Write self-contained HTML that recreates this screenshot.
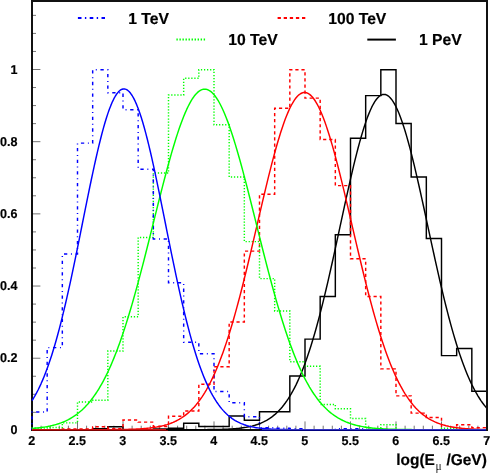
<!DOCTYPE html>
<html><head><meta charset="utf-8"><title>chart</title>
<style>html,body{margin:0;padding:0;background:#fff}body{width:491px;height:473px;position:relative;overflow:hidden;font-family:"Liberation Sans",sans-serif}</style>
</head><body>
<svg width="491" height="473" viewBox="0 0 491 473" style="position:absolute;left:0;top:0;will-change:transform">
<rect x="0" y="0" width="491" height="473" fill="#ffffff"/>
<rect x="32" y="1" width="455" height="429" fill="none" stroke="#111" stroke-width="2"/>
<path d="M32.00,430 V421.40 M41.10,430 V425.70 M50.20,430 V425.70 M59.30,430 V425.70 M68.40,430 V425.70 M77.50,430 V421.40 M86.60,430 V425.70 M95.70,430 V425.70 M104.80,430 V425.70 M113.90,430 V425.70 M123.00,430 V421.40 M132.10,430 V425.70 M141.20,430 V425.70 M150.30,430 V425.70 M159.40,430 V425.70 M168.50,430 V421.40 M177.60,430 V425.70 M186.70,430 V425.70 M195.80,430 V425.70 M204.90,430 V425.70 M214.00,430 V421.40 M223.10,430 V425.70 M232.20,430 V425.70 M241.30,430 V425.70 M250.40,430 V425.70 M259.50,430 V421.40 M268.60,430 V425.70 M277.70,430 V425.70 M286.80,430 V425.70 M295.90,430 V425.70 M305.00,430 V421.40 M314.10,430 V425.70 M323.20,430 V425.70 M332.30,430 V425.70 M341.40,430 V425.70 M350.50,430 V421.40 M359.60,430 V425.70 M368.70,430 V425.70 M377.80,430 V425.70 M386.90,430 V425.70 M396.00,430 V421.40 M405.10,430 V425.70 M414.20,430 V425.70 M423.30,430 V425.70 M432.40,430 V425.70 M441.50,430 V421.40 M450.60,430 V425.70 M459.70,430 V425.70 M468.80,430 V425.70 M477.90,430 V425.70 M487.00,430 V421.40 M32,430.40 H40.40 M32,412.35 H36.00 M32,394.31 H36.00 M32,376.26 H36.00 M32,358.22 H40.40 M32,340.17 H36.00 M32,322.13 H36.00 M32,304.08 H36.00 M32,286.04 H40.40 M32,268.00 H36.00 M32,249.95 H36.00 M32,231.90 H36.00 M32,213.86 H40.40 M32,195.81 H36.00 M32,177.77 H36.00 M32,159.73 H36.00 M32,141.68 H40.40 M32,123.63 H36.00 M32,105.59 H36.00 M32,87.54 H36.00 M32,69.50 H40.40 M32,51.45 H36.00 M32,33.41 H36.00 M32,15.36 H36.00" stroke="#000" stroke-width="0.55" fill="none"/>
<path d="M32.00,429.70 L47.17,429.70 L62.33,429.70 L77.50,429.70 L92.67,429.70 L92.67,428.62 L107.83,428.62 L107.83,426.82 L123.00,426.82 L123.00,429.70 L138.17,429.70 L153.33,429.70 L153.33,428.98 L168.50,428.98 L168.50,428.26 L183.67,428.26 L183.67,423.22 L198.83,423.22 L198.83,426.46 L214.00,426.46 L229.17,426.46 L229.17,416.02 L244.33,416.02 L244.33,420.34 L259.50,420.34 L259.50,411.81 L274.67,411.81 L289.83,411.81 L289.83,376.06 L305.00,376.06 L305.00,339.12 L320.17,339.12 L320.17,296.50 L335.33,296.50 L335.33,234.69 L350.50,234.69 L350.50,138.21 L365.67,138.21 L365.67,95.62 L380.83,95.62 L380.83,69.70 L396.00,69.70 L396.00,123.52 L411.17,123.52 L411.17,177.09 L426.33,177.09 L426.33,238.54 L441.50,238.54 L441.50,355.61 L456.67,355.61 L456.67,348.52 L471.83,348.52 L471.83,391.18 L487.00,391.18 L487.00,429.70" fill="none" stroke="#000000" stroke-width="1.45" stroke-linejoin="miter"/>
<path d="M32.00,429.70 L47.17,429.70 L62.33,429.70 L62.33,428.98 L77.50,428.98 L92.67,428.98 L92.67,426.82 L107.83,426.82 L107.83,428.62 L123.00,428.62 L123.00,419.98 L138.17,419.98 L138.17,422.14 L153.33,422.14 L153.33,426.46 L168.50,426.46 L168.50,416.20 L183.67,416.20 L183.67,410.98 L198.83,410.98 L198.83,384.34 L214.00,384.34 L214.00,366.81 L229.17,366.81 L229.17,321.92 L244.33,321.92 L244.33,251.14 L259.50,251.14 L259.50,194.26 L274.67,194.26 L274.67,108.22 L289.83,108.22 L289.83,69.70 L305.00,69.70 L305.00,98.14 L320.17,98.14 L320.17,139.54 L335.33,139.54 L335.33,185.62 L350.50,185.62 L350.50,258.81 L365.67,258.81 L365.67,296.50 L380.83,296.50 L380.83,368.86 L396.00,368.86 L396.00,395.86 L411.17,395.86 L411.17,413.14 L426.33,413.14 L426.33,417.46 L441.50,417.46 L441.50,429.70 L456.67,429.70 L456.67,424.80 L471.83,424.80 L471.83,427.61 L487.00,427.61 L487.00,429.70" fill="none" stroke="#ff0000" stroke-width="1.45" stroke-dasharray="3.2 2.9" stroke-dashoffset="0.6" stroke-linejoin="miter"/>
<path d="M32.00,429.70 L32.00,427.90 L47.17,427.90 L47.17,427.54 L62.33,427.54 L62.33,422.86 L77.50,422.86 L77.50,401.98 L92.67,401.98 L92.67,400.18 L107.83,400.18 L107.83,351.04 L123.00,351.04 L123.00,316.77 L138.17,316.77 L138.17,237.46 L153.33,237.46 L153.33,173.02 L168.50,173.02 L168.50,94.90 L183.67,94.90 L183.67,78.34 L198.83,78.34 L198.83,69.70 L214.00,69.70 L214.00,124.78 L229.17,124.78 L229.17,176.98 L244.33,176.98 L244.33,241.60 L259.50,241.60 L259.50,278.61 L274.67,278.61 L274.67,311.01 L289.83,311.01 L289.83,361.66 L305.00,361.66 L305.00,366.34 L320.17,366.34 L320.17,404.50 L335.33,404.50 L335.33,408.82 L350.50,408.82 L350.50,418.54 L365.67,418.54 L365.67,428.98 L380.83,428.98 L380.83,424.66 L396.00,424.66 L396.00,429.70 L411.17,429.70 L426.33,429.70 L441.50,429.70 L441.50,428.26 L456.67,428.26 L456.67,429.70 L471.83,429.70 L487.00,429.70" fill="none" stroke="#00ff00" stroke-width="1.45" stroke-dasharray="1.25 1.8" stroke-dashoffset="1.78" stroke-linejoin="miter"/>
<path d="M32.00,429.70 L32.00,412.06 L47.17,412.06 L47.17,347.62 L62.33,347.62 L62.33,254.02 L77.50,254.02 L77.50,143.14 L92.67,143.14 L92.67,69.70 L107.83,69.70 L107.83,92.74 L123.00,92.74 L123.00,109.66 L138.17,109.66 L138.17,169.20 L153.33,169.20 L153.33,238.90 L168.50,238.90 L168.50,282.82 L183.67,282.82 L183.67,342.22 L198.83,342.22 L198.83,353.74 L214.00,353.74 L214.00,391.54 L229.17,391.54 L229.17,402.70 L244.33,402.70 L244.33,416.74 L259.50,416.74 L259.50,427.72 L274.67,427.72 L274.67,428.26 L289.83,428.26 L289.83,428.62 L305.00,428.62 L305.00,429.70 L320.17,429.70 L335.33,429.70 L335.33,428.62 L350.50,428.62 L365.67,428.62 L365.67,429.70 L380.83,429.70 L396.00,429.70 L411.17,429.70 L426.33,429.70 L441.50,429.70 L456.67,429.70 L471.83,429.70 L487.00,429.70" fill="none" stroke="#0000ff" stroke-width="1.45" stroke-dasharray="3.3 3.66 1.0 3.66" stroke-dashoffset="1.5" stroke-linejoin="miter"/>
<path d="M32.00,429.70 L33.52,429.70 L35.03,429.70 L36.55,429.70 L38.07,429.70 L39.58,429.70 L41.10,429.70 L42.62,429.70 L44.13,429.70 L45.65,429.70 L47.17,429.70 L48.68,429.70 L50.20,429.70 L51.72,429.70 L53.23,429.70 L54.75,429.70 L56.27,429.70 L57.78,429.70 L59.30,429.70 L60.82,429.70 L62.33,429.70 L63.85,429.70 L65.37,429.70 L66.88,429.70 L68.40,429.70 L69.92,429.70 L71.43,429.70 L72.95,429.70 L74.47,429.70 L75.98,429.70 L77.50,429.70 L79.02,429.70 L80.53,429.70 L82.05,429.70 L83.57,429.70 L85.08,429.70 L86.60,429.70 L88.12,429.70 L89.63,429.70 L91.15,429.70 L92.67,429.70 L94.18,429.70 L95.70,429.70 L97.22,429.70 L98.73,429.70 L100.25,429.70 L101.77,429.70 L103.28,429.70 L104.80,429.70 L106.32,429.70 L107.83,429.70 L109.35,429.70 L110.87,429.70 L112.38,429.70 L113.90,429.70 L115.42,429.70 L116.93,429.70 L118.45,429.70 L119.97,429.70 L121.48,429.70 L123.00,429.70 L124.52,429.70 L126.03,429.70 L127.55,429.70 L129.07,429.70 L130.58,429.70 L132.10,429.70 L133.62,429.70 L135.13,429.70 L136.65,429.70 L138.17,429.70 L139.68,429.70 L141.20,429.70 L142.72,429.70 L144.23,429.70 L145.75,429.70 L147.27,429.70 L148.78,429.70 L150.30,429.70 L151.82,429.70 L153.33,429.70 L154.85,429.70 L156.37,429.70 L157.88,429.70 L159.40,429.70 L160.92,429.70 L162.43,429.70 L163.95,429.70 L165.47,429.70 L166.98,429.70 L168.50,429.70 L170.02,429.70 L171.53,429.70 L173.05,429.70 L174.57,429.70 L176.08,429.70 L177.60,429.69 L179.12,429.69 L180.63,429.69 L182.15,429.69 L183.67,429.69 L185.18,429.69 L186.70,429.69 L188.22,429.68 L189.73,429.68 L191.25,429.68 L192.77,429.67 L194.28,429.67 L195.80,429.67 L197.32,429.66 L198.83,429.65 L200.35,429.65 L201.87,429.64 L203.38,429.63 L204.90,429.62 L206.42,429.61 L207.93,429.59 L209.45,429.58 L210.97,429.56 L212.48,429.54 L214.00,429.52 L215.52,429.49 L217.03,429.46 L218.55,429.43 L220.07,429.39 L221.58,429.35 L223.10,429.30 L224.62,429.24 L226.13,429.18 L227.65,429.12 L229.17,429.04 L230.68,428.95 L232.20,428.86 L233.72,428.75 L235.23,428.63 L236.75,428.50 L238.27,428.35 L239.78,428.19 L241.30,428.01 L242.82,427.81 L244.33,427.59 L245.85,427.35 L247.37,427.08 L248.88,426.78 L250.40,426.45 L251.92,426.10 L253.43,425.70 L254.95,425.27 L256.47,424.80 L257.98,424.29 L259.50,423.73 L261.02,423.11 L262.53,422.45 L264.05,421.72 L265.57,420.94 L267.08,420.09 L268.60,419.16 L270.12,418.17 L271.63,417.09 L273.15,415.93 L274.67,414.68 L276.18,413.34 L277.70,411.90 L279.22,410.36 L280.73,408.70 L282.25,406.94 L283.77,405.05 L285.28,403.04 L286.80,400.90 L288.32,398.63 L289.83,396.21 L291.35,393.65 L292.87,390.95 L294.38,388.08 L295.90,385.07 L297.42,381.88 L298.93,378.54 L300.45,375.02 L301.97,371.33 L303.48,367.47 L305.00,363.44 L306.52,359.22 L308.03,354.83 L309.55,350.25 L311.07,345.50 L312.58,340.57 L314.10,335.47 L315.62,330.19 L317.13,324.74 L318.65,319.13 L320.17,313.35 L321.68,307.42 L323.20,301.35 L324.72,295.13 L326.23,288.77 L327.75,282.30 L329.27,275.71 L330.78,269.01 L332.30,262.23 L333.82,255.37 L335.33,248.44 L336.85,241.47 L338.37,234.46 L339.88,227.43 L341.40,220.40 L342.92,213.38 L344.43,206.40 L345.95,199.46 L347.47,192.60 L348.98,185.82 L350.50,179.14 L352.02,172.59 L353.53,166.19 L355.05,159.95 L356.57,153.89 L358.08,148.03 L359.60,142.39 L361.12,136.99 L362.63,131.84 L364.15,126.96 L365.67,122.37 L367.18,118.09 L368.70,114.12 L370.22,110.49 L371.73,107.20 L373.25,104.26 L374.77,101.69 L376.28,99.49 L377.80,97.68 L379.32,96.26 L380.83,95.23 L382.35,94.59 L383.87,94.36 L385.38,94.53 L386.90,95.10 L388.42,96.06 L389.93,97.43 L391.45,99.18 L392.97,101.31 L394.48,103.82 L396.00,106.70 L397.52,109.94 L399.03,113.52 L400.55,117.43 L402.07,121.67 L403.58,126.21 L405.10,131.04 L406.62,136.14 L408.13,141.51 L409.65,147.11 L411.17,152.94 L412.68,158.96 L414.20,165.18 L415.72,171.56 L417.23,178.09 L418.75,184.74 L420.27,191.50 L421.78,198.36 L423.30,205.28 L424.82,212.26 L426.33,219.28 L427.85,226.31 L429.37,233.34 L430.88,240.35 L432.40,247.33 L433.92,254.27 L435.43,261.14 L436.95,267.93 L438.47,274.64 L439.98,281.25 L441.50,287.74 L443.02,294.12 L444.53,300.36 L446.05,306.46 L447.57,312.42 L449.08,318.22 L450.60,323.86 L452.12,329.33 L453.63,334.64 L455.15,339.77 L456.67,344.73 L458.18,349.51 L459.70,354.11 L461.22,358.53 L462.73,362.77 L464.25,366.84 L465.77,370.73 L467.28,374.44 L468.80,377.99 L470.32,381.36 L471.83,384.57 L473.35,387.61 L474.87,390.50 L476.38,393.23 L477.90,395.81 L479.42,398.25 L480.93,400.55 L482.45,402.71 L483.97,404.74 L485.48,406.64 L487.00,408.43" fill="none" stroke="#000000" stroke-width="1.45" stroke-linejoin="round"/>
<path d="M32.00,429.70 L33.52,429.70 L35.03,429.70 L36.55,429.70 L38.07,429.70 L39.58,429.70 L41.10,429.70 L42.62,429.70 L44.13,429.70 L45.65,429.70 L47.17,429.70 L48.68,429.70 L50.20,429.70 L51.72,429.70 L53.23,429.70 L54.75,429.70 L56.27,429.70 L57.78,429.70 L59.30,429.70 L60.82,429.70 L62.33,429.70 L63.85,429.70 L65.37,429.70 L66.88,429.70 L68.40,429.70 L69.92,429.70 L71.43,429.70 L72.95,429.70 L74.47,429.70 L75.98,429.70 L77.50,429.70 L79.02,429.70 L80.53,429.70 L82.05,429.69 L83.57,429.69 L85.08,429.69 L86.60,429.69 L88.12,429.69 L89.63,429.69 L91.15,429.69 L92.67,429.68 L94.18,429.68 L95.70,429.68 L97.22,429.68 L98.73,429.67 L100.25,429.67 L101.77,429.66 L103.28,429.66 L104.80,429.65 L106.32,429.64 L107.83,429.64 L109.35,429.63 L110.87,429.62 L112.38,429.61 L113.90,429.59 L115.42,429.58 L116.93,429.56 L118.45,429.54 L119.97,429.52 L121.48,429.50 L123.00,429.47 L124.52,429.44 L126.03,429.41 L127.55,429.37 L129.07,429.33 L130.58,429.29 L132.10,429.24 L133.62,429.18 L135.13,429.12 L136.65,429.05 L138.17,428.97 L139.68,428.88 L141.20,428.79 L142.72,428.68 L144.23,428.57 L145.75,428.44 L147.27,428.30 L148.78,428.14 L150.30,427.97 L151.82,427.78 L153.33,427.57 L154.85,427.35 L156.37,427.10 L157.88,426.83 L159.40,426.53 L160.92,426.21 L162.43,425.86 L163.95,425.48 L165.47,425.06 L166.98,424.61 L168.50,424.12 L170.02,423.59 L171.53,423.01 L173.05,422.39 L174.57,421.72 L176.08,420.99 L177.60,420.21 L179.12,419.37 L180.63,418.47 L182.15,417.50 L183.67,416.46 L185.18,415.35 L186.70,414.16 L188.22,412.89 L189.73,411.53 L191.25,410.08 L192.77,408.54 L194.28,406.90 L195.80,405.16 L197.32,403.31 L198.83,401.35 L200.35,399.28 L201.87,397.09 L203.38,394.78 L204.90,392.34 L206.42,389.77 L207.93,387.07 L209.45,384.24 L210.97,381.26 L212.48,378.14 L214.00,374.88 L215.52,371.47 L217.03,367.91 L218.55,364.20 L220.07,360.34 L221.58,356.32 L223.10,352.16 L224.62,347.83 L226.13,343.36 L227.65,338.73 L229.17,333.96 L230.68,329.03 L232.20,323.96 L233.72,318.75 L235.23,313.40 L236.75,307.91 L238.27,302.30 L239.78,296.57 L241.30,290.71 L242.82,284.75 L244.33,278.69 L245.85,272.53 L247.37,266.29 L248.88,259.97 L250.40,253.59 L251.92,247.16 L253.43,240.68 L254.95,234.18 L256.47,227.65 L257.98,221.12 L259.50,214.60 L261.02,208.10 L262.53,201.64 L264.05,195.23 L265.57,188.88 L267.08,182.61 L268.60,176.44 L270.12,170.38 L271.63,164.44 L273.15,158.65 L274.67,153.01 L276.18,147.54 L277.70,142.26 L279.22,137.17 L280.73,132.30 L282.25,127.66 L283.77,123.25 L285.28,119.10 L286.80,115.21 L288.32,111.60 L289.83,108.28 L291.35,105.25 L292.87,102.53 L294.38,100.12 L295.90,98.03 L297.42,96.26 L298.93,94.83 L300.45,93.74 L301.97,92.98 L303.48,92.57 L305.00,92.50 L306.52,92.78 L308.03,93.40 L309.55,94.35 L311.07,95.65 L312.58,97.28 L314.10,99.24 L315.62,101.52 L317.13,104.12 L318.65,107.03 L320.17,110.24 L321.68,113.74 L323.20,117.51 L324.72,121.56 L326.23,125.87 L327.75,130.42 L329.27,135.20 L330.78,140.20 L332.30,145.40 L333.82,150.80 L335.33,156.37 L336.85,162.11 L338.37,167.99 L339.88,174.00 L341.40,180.13 L342.92,186.36 L344.43,192.68 L345.95,199.07 L347.47,205.51 L348.98,212.00 L350.50,218.51 L352.02,225.04 L353.53,231.57 L355.05,238.08 L356.57,244.57 L358.08,251.03 L359.60,257.43 L361.12,263.77 L362.63,270.04 L364.15,276.24 L365.67,282.34 L367.18,288.34 L368.70,294.24 L370.22,300.02 L371.73,305.68 L373.25,311.22 L374.77,316.63 L376.28,321.89 L377.80,327.02 L379.32,332.00 L380.83,336.84 L382.35,341.53 L383.87,346.06 L385.38,350.44 L386.90,354.67 L388.42,358.75 L389.93,362.67 L391.45,366.45 L392.97,370.06 L394.48,373.53 L396.00,376.86 L397.52,380.03 L399.03,383.06 L400.55,385.96 L402.07,388.71 L403.58,391.33 L405.10,393.82 L406.62,396.18 L408.13,398.42 L409.65,400.54 L411.17,402.54 L412.68,404.43 L414.20,406.22 L415.72,407.90 L417.23,409.48 L418.75,410.96 L420.27,412.35 L421.78,413.66 L423.30,414.88 L424.82,416.03 L426.33,417.10 L427.85,418.09 L429.37,419.02 L430.88,419.89 L432.40,420.69 L433.92,421.44 L435.43,422.13 L436.95,422.77 L438.47,423.36 L439.98,423.91 L441.50,424.42 L443.02,424.88 L444.53,425.31 L446.05,425.71 L447.57,426.07 L449.08,426.41 L450.60,426.71 L452.12,426.99 L453.63,427.25 L455.15,427.49 L456.67,427.70 L458.18,427.90 L459.70,428.07 L461.22,428.24 L462.73,428.38 L464.25,428.52 L465.77,428.64 L467.28,428.75 L468.80,428.85 L470.32,428.94 L471.83,429.02 L473.35,429.09 L474.87,429.16 L476.38,429.21 L477.90,429.27 L479.42,429.32 L480.93,429.36 L482.45,429.40 L483.97,429.43 L485.48,429.46 L487.00,429.49" fill="none" stroke="#ff0000" stroke-width="1.45" stroke-linejoin="round"/>
<path d="M32.00,428.49 L33.52,428.37 L35.03,428.23 L36.55,428.08 L38.07,427.92 L39.58,427.74 L41.10,427.55 L42.62,427.34 L44.13,427.11 L45.65,426.86 L47.17,426.59 L48.68,426.29 L50.20,425.98 L51.72,425.63 L53.23,425.26 L54.75,424.86 L56.27,424.43 L57.78,423.96 L59.30,423.46 L60.82,422.92 L62.33,422.34 L63.85,421.72 L65.37,421.05 L66.88,420.33 L68.40,419.57 L69.92,418.75 L71.43,417.87 L72.95,416.94 L74.47,415.94 L75.98,414.88 L77.50,413.75 L79.02,412.55 L80.53,411.28 L82.05,409.92 L83.57,408.49 L85.08,406.97 L86.60,405.37 L88.12,403.68 L89.63,401.89 L91.15,400.00 L92.67,398.02 L94.18,395.93 L95.70,393.73 L97.22,391.43 L98.73,389.01 L100.25,386.48 L101.77,383.83 L103.28,381.06 L104.80,378.16 L106.32,375.15 L107.83,372.00 L109.35,368.73 L110.87,365.33 L112.38,361.80 L113.90,358.14 L115.42,354.34 L116.93,350.42 L118.45,346.36 L119.97,342.17 L121.48,337.85 L123.00,333.39 L124.52,328.82 L126.03,324.11 L127.55,319.28 L129.07,314.33 L130.58,309.27 L132.10,304.09 L133.62,298.80 L135.13,293.41 L136.65,287.92 L138.17,282.34 L139.68,276.67 L141.20,270.93 L142.72,265.10 L144.23,259.22 L145.75,253.27 L147.27,247.28 L148.78,241.25 L150.30,235.19 L151.82,229.11 L153.33,223.02 L154.85,216.93 L156.37,210.85 L157.88,204.79 L159.40,198.76 L160.92,192.78 L162.43,186.86 L163.95,181.00 L165.47,175.23 L166.98,169.55 L168.50,163.97 L170.02,158.51 L171.53,153.17 L173.05,147.98 L174.57,142.94 L176.08,138.06 L177.60,133.36 L179.12,128.85 L180.63,124.53 L182.15,120.42 L183.67,116.52 L185.18,112.85 L186.70,109.42 L188.22,106.24 L189.73,103.30 L191.25,100.63 L192.77,98.22 L194.28,96.08 L195.80,94.22 L197.32,92.65 L198.83,91.36 L200.35,90.37 L201.87,89.66 L203.38,89.25 L204.90,89.14 L206.42,89.33 L207.93,89.81 L209.45,90.58 L210.97,91.65 L212.48,93.00 L214.00,94.64 L215.52,96.57 L217.03,98.77 L218.55,101.24 L220.07,103.98 L221.58,106.98 L223.10,110.22 L224.62,113.71 L226.13,117.44 L227.65,121.38 L229.17,125.55 L230.68,129.91 L232.20,134.47 L233.72,139.22 L235.23,144.14 L236.75,149.21 L238.27,154.44 L239.78,159.81 L241.30,165.30 L242.82,170.90 L244.33,176.61 L245.85,182.40 L247.37,188.28 L248.88,194.21 L250.40,200.21 L251.92,206.24 L253.43,212.30 L254.95,218.39 L256.47,224.48 L257.98,230.57 L259.50,236.65 L261.02,242.70 L262.53,248.72 L264.05,254.71 L265.57,260.64 L267.08,266.51 L268.60,272.31 L270.12,278.04 L271.63,283.69 L273.15,289.25 L274.67,294.72 L276.18,300.08 L277.70,305.34 L279.22,310.50 L280.73,315.53 L282.25,320.45 L283.77,325.25 L285.28,329.93 L286.80,334.47 L288.32,338.89 L289.83,343.18 L291.35,347.34 L292.87,351.37 L294.38,355.27 L295.90,359.03 L297.42,362.66 L298.93,366.16 L300.45,369.53 L301.97,372.77 L303.48,375.88 L305.00,378.87 L306.52,381.73 L308.03,384.47 L309.55,387.10 L311.07,389.60 L312.58,391.99 L314.10,394.27 L315.62,396.44 L317.13,398.50 L318.65,400.46 L320.17,402.33 L321.68,404.09 L323.20,405.76 L324.72,407.35 L326.23,408.84 L327.75,410.26 L329.27,411.59 L330.78,412.85 L332.30,414.03 L333.82,415.14 L335.33,416.19 L336.85,417.17 L338.37,418.09 L339.88,418.95 L341.40,419.76 L342.92,420.51 L344.43,421.21 L345.95,421.87 L347.47,422.48 L348.98,423.05 L350.50,423.58 L352.02,424.08 L353.53,424.54 L355.05,424.96 L356.57,425.35 L358.08,425.72 L359.60,426.06 L361.12,426.37 L362.63,426.65 L364.15,426.92 L365.67,427.16 L367.18,427.39 L368.70,427.59 L370.22,427.78 L371.73,427.96 L373.25,428.12 L374.77,428.26 L376.28,428.40 L377.80,428.52 L379.32,428.63 L380.83,428.74 L382.35,428.83 L383.87,428.91 L385.38,428.99 L386.90,429.06 L388.42,429.12 L389.93,429.18 L391.45,429.23 L392.97,429.28 L394.48,429.32 L396.00,429.36 L397.52,429.40 L399.03,429.43 L400.55,429.46 L402.07,429.48 L403.58,429.51 L405.10,429.53 L406.62,429.55 L408.13,429.56 L409.65,429.58 L411.17,429.59 L412.68,429.60 L414.20,429.62 L415.72,429.62 L417.23,429.63 L418.75,429.64 L420.27,429.65 L421.78,429.65 L423.30,429.66 L424.82,429.66 L426.33,429.67 L427.85,429.67 L429.37,429.68 L430.88,429.68 L432.40,429.68 L433.92,429.68 L435.43,429.69 L436.95,429.69 L438.47,429.69 L439.98,429.69 L441.50,429.69 L443.02,429.69 L444.53,429.69 L446.05,429.69 L447.57,429.70 L449.08,429.70 L450.60,429.70 L452.12,429.70 L453.63,429.70 L455.15,429.70 L456.67,429.70 L458.18,429.70 L459.70,429.70 L461.22,429.70 L462.73,429.70 L464.25,429.70 L465.77,429.70 L467.28,429.70 L468.80,429.70 L470.32,429.70 L471.83,429.70 L473.35,429.70 L474.87,429.70 L476.38,429.70 L477.90,429.70 L479.42,429.70 L480.93,429.70 L482.45,429.70 L483.97,429.70 L485.48,429.70 L487.00,429.70" fill="none" stroke="#00ff00" stroke-width="1.45" stroke-linejoin="round"/>
<path d="M32.00,400.69 L33.52,398.25 L35.03,395.66 L36.55,392.90 L38.07,389.97 L39.58,386.86 L41.10,383.58 L42.62,380.10 L44.13,376.44 L45.65,372.58 L47.17,368.53 L48.68,364.28 L50.20,359.82 L51.72,355.16 L53.23,350.30 L54.75,345.24 L56.27,339.97 L57.78,334.50 L59.30,328.83 L60.82,322.97 L62.33,316.92 L63.85,310.68 L65.37,304.27 L66.88,297.69 L68.40,290.95 L69.92,284.07 L71.43,277.04 L72.95,269.90 L74.47,262.64 L75.98,255.29 L77.50,247.86 L79.02,240.36 L80.53,232.82 L82.05,225.26 L83.57,217.69 L85.08,210.13 L86.60,202.61 L88.12,195.15 L89.63,187.76 L91.15,180.48 L92.67,173.33 L94.18,166.32 L95.70,159.48 L97.22,152.84 L98.73,146.41 L100.25,140.23 L101.77,134.30 L103.28,128.66 L104.80,123.32 L106.32,118.31 L107.83,113.63 L109.35,109.32 L110.87,105.39 L112.38,101.84 L113.90,98.70 L115.42,95.98 L116.93,93.69 L118.45,91.84 L119.97,90.43 L121.48,89.47 L123.00,88.97 L124.52,88.92 L126.03,89.34 L127.55,90.20 L129.07,91.52 L130.58,93.29 L132.10,95.49 L133.62,98.13 L135.13,101.18 L136.65,104.65 L138.17,108.50 L139.68,112.74 L141.20,117.34 L142.72,122.29 L144.23,127.57 L145.75,133.15 L147.27,139.02 L148.78,145.16 L150.30,151.53 L151.82,158.14 L153.33,164.94 L154.85,171.91 L156.37,179.04 L157.88,186.30 L159.40,193.66 L160.92,201.11 L162.43,208.62 L163.95,216.17 L165.47,223.74 L166.98,231.31 L168.50,238.86 L170.02,246.36 L171.53,253.81 L173.05,261.18 L174.57,268.46 L176.08,275.63 L177.60,282.67 L179.12,289.59 L180.63,296.36 L182.15,302.97 L183.67,309.41 L185.18,315.68 L186.70,321.77 L188.22,327.67 L189.73,333.38 L191.25,338.89 L192.77,344.20 L194.28,349.30 L195.80,354.21 L197.32,358.91 L198.83,363.40 L200.35,367.70 L201.87,371.79 L203.38,375.69 L204.90,379.39 L206.42,382.90 L207.93,386.22 L209.45,389.36 L210.97,392.33 L212.48,395.12 L214.00,397.75 L215.52,400.22 L217.03,402.53 L218.55,404.69 L220.07,406.72 L221.58,408.61 L223.10,410.37 L224.62,412.00 L226.13,413.52 L227.65,414.93 L229.17,416.23 L230.68,417.44 L232.20,418.55 L233.72,419.58 L235.23,420.52 L236.75,421.39 L238.27,422.18 L239.78,422.91 L241.30,423.58 L242.82,424.18 L244.33,424.74 L245.85,425.24 L247.37,425.70 L248.88,426.12 L250.40,426.49 L251.92,426.84 L253.43,427.14 L254.95,427.42 L256.47,427.67 L257.98,427.90 L259.50,428.10 L261.02,428.28 L262.53,428.45 L264.05,428.59 L265.57,428.72 L267.08,428.84 L268.60,428.94 L270.12,429.03 L271.63,429.11 L273.15,429.19 L274.67,429.25 L276.18,429.31 L277.70,429.36 L279.22,429.40 L280.73,429.44 L282.25,429.47 L283.77,429.50 L285.28,429.53 L286.80,429.55 L288.32,429.57 L289.83,429.59 L291.35,429.60 L292.87,429.62 L294.38,429.63 L295.90,429.64 L297.42,429.65 L298.93,429.66 L300.45,429.66 L301.97,429.67 L303.48,429.67 L305.00,429.68 L306.52,429.68 L308.03,429.68 L309.55,429.69 L311.07,429.69 L312.58,429.69 L314.10,429.69 L315.62,429.69 L317.13,429.69 L318.65,429.69 L320.17,429.70 L321.68,429.70 L323.20,429.70 L324.72,429.70 L326.23,429.70 L327.75,429.70 L329.27,429.70 L330.78,429.70 L332.30,429.70 L333.82,429.70 L335.33,429.70 L336.85,429.70 L338.37,429.70 L339.88,429.70 L341.40,429.70 L342.92,429.70 L344.43,429.70 L345.95,429.70 L347.47,429.70 L348.98,429.70 L350.50,429.70 L352.02,429.70 L353.53,429.70 L355.05,429.70 L356.57,429.70 L358.08,429.70 L359.60,429.70 L361.12,429.70 L362.63,429.70 L364.15,429.70 L365.67,429.70 L367.18,429.70 L368.70,429.70 L370.22,429.70 L371.73,429.70 L373.25,429.70 L374.77,429.70 L376.28,429.70 L377.80,429.70 L379.32,429.70 L380.83,429.70 L382.35,429.70 L383.87,429.70 L385.38,429.70 L386.90,429.70 L388.42,429.70 L389.93,429.70 L391.45,429.70 L392.97,429.70 L394.48,429.70 L396.00,429.70 L397.52,429.70 L399.03,429.70 L400.55,429.70 L402.07,429.70 L403.58,429.70 L405.10,429.70 L406.62,429.70 L408.13,429.70 L409.65,429.70 L411.17,429.70 L412.68,429.70 L414.20,429.70 L415.72,429.70 L417.23,429.70 L418.75,429.70 L420.27,429.70 L421.78,429.70 L423.30,429.70 L424.82,429.70 L426.33,429.70 L427.85,429.70 L429.37,429.70 L430.88,429.70 L432.40,429.70 L433.92,429.70 L435.43,429.70 L436.95,429.70 L438.47,429.70 L439.98,429.70 L441.50,429.70 L443.02,429.70 L444.53,429.70 L446.05,429.70 L447.57,429.70 L449.08,429.70 L450.60,429.70 L452.12,429.70 L453.63,429.70 L455.15,429.70 L456.67,429.70 L458.18,429.70 L459.70,429.70 L461.22,429.70 L462.73,429.70 L464.25,429.70 L465.77,429.70 L467.28,429.70 L468.80,429.70 L470.32,429.70 L471.83,429.70 L473.35,429.70 L474.87,429.70 L476.38,429.70 L477.90,429.70 L479.42,429.70 L480.93,429.70 L482.45,429.70 L483.97,429.70 L485.48,429.70 L487.00,429.70" fill="none" stroke="#0000ff" stroke-width="1.45" stroke-linejoin="round"/>
<path d="M487,0 V431" stroke="#111" stroke-width="2" fill="none"/>
<path d="M33,429.5 H166" stroke="#cc1010" stroke-width="1" fill="none"/>
<path d="M33,430.5 H168" stroke="#800000" stroke-width="1" fill="none"/>
<path d="M262,429.5 H486" stroke="#3434c4" stroke-width="1" fill="none"/>
<path d="M260,430.5 H486" stroke="#000080" stroke-width="1" fill="none"/>
<path d="M77.9,18 H105" stroke="#0000ff" stroke-width="2" stroke-dasharray="3.6 3.4 1.4 3.4" fill="none"/>
<path d="M176.4,39.6 H206.2" stroke="#00ff00" stroke-width="2" stroke-dasharray="1.4 1.63" fill="none"/>
<path d="M277.6,18 H305.7" stroke="#ff0000" stroke-width="2" stroke-dasharray="3.3 2.8" fill="none"/>
<path d="M367.3,39.6 H395.9" stroke="#000" stroke-width="2" fill="none"/>
<text transform="translate(128.20,23.80) scale(0.9870,1)" x="0" y="0" style="font-family:'Liberation Sans',sans-serif;font-weight:bold;fill:#000;stroke:#000;stroke-width:0.18px;font-size:15.9px;text-rendering:geometricPrecision" text-anchor="start">1 TeV</text>
<text transform="translate(228.30,45.10) scale(0.9870,1)" x="0" y="0" style="font-family:'Liberation Sans',sans-serif;font-weight:bold;fill:#000;stroke:#000;stroke-width:0.18px;font-size:15.9px;text-rendering:geometricPrecision" text-anchor="start">10 TeV</text>
<text transform="translate(328.20,23.80) scale(0.9870,1)" x="0" y="0" style="font-family:'Liberation Sans',sans-serif;font-weight:bold;fill:#000;stroke:#000;stroke-width:0.18px;font-size:15.9px;text-rendering:geometricPrecision" text-anchor="start">100 TeV</text>
<text transform="translate(418.90,45.10) scale(0.9870,1)" x="0" y="0" style="font-family:'Liberation Sans',sans-serif;font-weight:bold;fill:#000;stroke:#000;stroke-width:0.18px;font-size:15.9px;text-rendering:geometricPrecision" text-anchor="start">1 PeV</text>
<text transform="translate(31.70,445.20) scale(0.9750,1)" x="0" y="0" style="font-family:'Liberation Sans',sans-serif;font-weight:bold;fill:#000;stroke:#000;stroke-width:0.18px;font-size:12.9px;text-rendering:geometricPrecision" text-anchor="middle">2</text>
<text transform="translate(77.20,445.20) scale(0.9750,1)" x="0" y="0" style="font-family:'Liberation Sans',sans-serif;font-weight:bold;fill:#000;stroke:#000;stroke-width:0.18px;font-size:12.9px;text-rendering:geometricPrecision" text-anchor="middle">2.5</text>
<text transform="translate(122.70,445.20) scale(0.9750,1)" x="0" y="0" style="font-family:'Liberation Sans',sans-serif;font-weight:bold;fill:#000;stroke:#000;stroke-width:0.18px;font-size:12.9px;text-rendering:geometricPrecision" text-anchor="middle">3</text>
<text transform="translate(168.20,445.20) scale(0.9750,1)" x="0" y="0" style="font-family:'Liberation Sans',sans-serif;font-weight:bold;fill:#000;stroke:#000;stroke-width:0.18px;font-size:12.9px;text-rendering:geometricPrecision" text-anchor="middle">3.5</text>
<text transform="translate(213.70,445.20) scale(0.9750,1)" x="0" y="0" style="font-family:'Liberation Sans',sans-serif;font-weight:bold;fill:#000;stroke:#000;stroke-width:0.18px;font-size:12.9px;text-rendering:geometricPrecision" text-anchor="middle">4</text>
<text transform="translate(259.20,445.20) scale(0.9750,1)" x="0" y="0" style="font-family:'Liberation Sans',sans-serif;font-weight:bold;fill:#000;stroke:#000;stroke-width:0.18px;font-size:12.9px;text-rendering:geometricPrecision" text-anchor="middle">4.5</text>
<text transform="translate(304.70,445.20) scale(0.9750,1)" x="0" y="0" style="font-family:'Liberation Sans',sans-serif;font-weight:bold;fill:#000;stroke:#000;stroke-width:0.18px;font-size:12.9px;text-rendering:geometricPrecision" text-anchor="middle">5</text>
<text transform="translate(350.20,445.20) scale(0.9750,1)" x="0" y="0" style="font-family:'Liberation Sans',sans-serif;font-weight:bold;fill:#000;stroke:#000;stroke-width:0.18px;font-size:12.9px;text-rendering:geometricPrecision" text-anchor="middle">5.5</text>
<text transform="translate(395.70,445.20) scale(0.9750,1)" x="0" y="0" style="font-family:'Liberation Sans',sans-serif;font-weight:bold;fill:#000;stroke:#000;stroke-width:0.18px;font-size:12.9px;text-rendering:geometricPrecision" text-anchor="middle">6</text>
<text transform="translate(441.20,445.20) scale(0.9750,1)" x="0" y="0" style="font-family:'Liberation Sans',sans-serif;font-weight:bold;fill:#000;stroke:#000;stroke-width:0.18px;font-size:12.9px;text-rendering:geometricPrecision" text-anchor="middle">6.5</text>
<text transform="translate(486.70,445.20) scale(0.9750,1)" x="0" y="0" style="font-family:'Liberation Sans',sans-serif;font-weight:bold;fill:#000;stroke:#000;stroke-width:0.18px;font-size:12.9px;text-rendering:geometricPrecision" text-anchor="middle">7</text>
<text transform="translate(17.50,434.40) scale(0.9750,1)" x="0" y="0" style="font-family:'Liberation Sans',sans-serif;font-weight:bold;fill:#000;stroke:#000;stroke-width:0.18px;font-size:12.9px;text-rendering:geometricPrecision" text-anchor="end">0</text>
<text transform="translate(17.50,362.40) scale(0.9750,1)" x="0" y="0" style="font-family:'Liberation Sans',sans-serif;font-weight:bold;fill:#000;stroke:#000;stroke-width:0.18px;font-size:12.9px;text-rendering:geometricPrecision" text-anchor="end">0.2</text>
<text transform="translate(17.50,290.40) scale(0.9750,1)" x="0" y="0" style="font-family:'Liberation Sans',sans-serif;font-weight:bold;fill:#000;stroke:#000;stroke-width:0.18px;font-size:12.9px;text-rendering:geometricPrecision" text-anchor="end">0.4</text>
<text transform="translate(17.50,218.40) scale(0.9750,1)" x="0" y="0" style="font-family:'Liberation Sans',sans-serif;font-weight:bold;fill:#000;stroke:#000;stroke-width:0.18px;font-size:12.9px;text-rendering:geometricPrecision" text-anchor="end">0.6</text>
<text transform="translate(17.50,146.40) scale(0.9750,1)" x="0" y="0" style="font-family:'Liberation Sans',sans-serif;font-weight:bold;fill:#000;stroke:#000;stroke-width:0.18px;font-size:12.9px;text-rendering:geometricPrecision" text-anchor="end">0.8</text>
<text transform="translate(17.50,74.40) scale(0.9750,1)" x="0" y="0" style="font-family:'Liberation Sans',sans-serif;font-weight:bold;fill:#000;stroke:#000;stroke-width:0.18px;font-size:12.9px;text-rendering:geometricPrecision" text-anchor="end">1</text>
<text transform="translate(396.20,465.20) scale(0.9800,1)" x="0" y="0" style="font-family:'Liberation Sans',sans-serif;font-weight:bold;fill:#000;stroke:#000;stroke-width:0.18px;font-size:15.8px;text-rendering:geometricPrecision" text-anchor="start">log(E</text>
<text x="435.4" y="469.8" style="font-family:'Liberation Serif',serif;font-size:11.5px;fill:#222">μ</text>
<text transform="translate(446.40,465.20) scale(0.9800,1)" x="0" y="0" style="font-family:'Liberation Sans',sans-serif;font-weight:bold;fill:#000;stroke:#000;stroke-width:0.18px;font-size:15.8px;text-rendering:geometricPrecision" text-anchor="start">/GeV)</text>
</svg>
</body></html>
